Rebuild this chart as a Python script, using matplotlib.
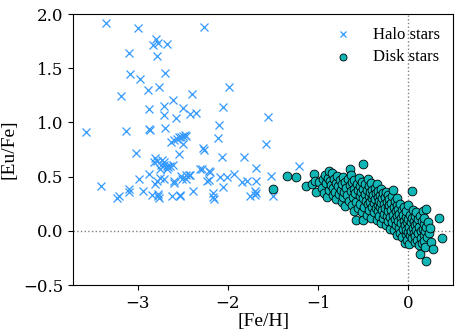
import numpy as np
import matplotlib
matplotlib.use("Agg")
import matplotlib.pyplot as plt

plt.rcParams['font.family'] = ['Liberation Serif', 'DejaVu Serif']

# halo stars ([Fe/H], [Eu/Fe])
halo = [
    (-3.35, 1.92), (-3.00, 1.87), (-2.26, 1.88),
    (-2.80, 1.77), (-2.83, 1.715), (-2.78, 1.735), (-2.68, 1.72),
    (-3.10, 1.64), (-2.79, 1.615),
    (-3.09, 1.445), (-2.975, 1.405), (-2.70, 1.46),
    (-2.89, 1.30), (-2.76, 1.325), (-3.185, 1.245), (-2.40, 1.26), (-1.99, 1.325),
    (-2.61, 1.205), (-2.71, 1.155), (-2.88, 1.125), (-2.50, 1.13), (-2.05, 1.145),
    (-2.71, 1.065), (-2.58, 1.045), (-2.42, 1.075), (-2.35, 1.085), (-1.55, 1.055),
    (-3.57, 0.915), (-3.13, 0.92), (-2.87, 0.94), (-2.86, 0.93), (-2.70, 0.946), (-2.10, 0.975),
    (-2.50, 0.875), (-2.47, 0.875), (-2.11, 0.855),
    (-2.63, 0.822), (-2.60, 0.834), (-2.57, 0.844), (-2.545, 0.866), (-2.515, 0.866), (-2.48, 0.884),
    (-2.50, 0.798), (-1.58, 0.80), (-2.28, 0.76), (-2.26, 0.75),
    (-3.02, 0.715), (-2.545, 0.705), (-2.07, 0.683), (-1.82, 0.683),
    (-2.81, 0.674), (-2.79, 0.643), (-2.82, 0.637),
    (-2.73, 0.65), (-2.71, 0.64), (-2.71, 0.61), (-2.74, 0.61), (-2.68, 0.60),
    (-2.66, 0.585), (-2.68, 0.568), (-2.64, 0.60), (-2.61, 0.61), (-2.75, 0.567),
    (-1.21, 0.60), (-1.69, 0.576), (-2.29, 0.567), (-2.20, 0.544), (-2.31, 0.567), (-2.21, 0.556),
    (-2.87, 0.526), (-2.47, 0.52), (-2.43, 0.514), (-1.93, 0.526), (-2.52, 0.505), (-2.42, 0.52),
    (-2.99, 0.483), (-2.75, 0.489), (-2.71, 0.474), (-2.51, 0.474), (-2.46, 0.483),
    (-2.09, 0.498), (-2.01, 0.498), (-1.52, 0.505), (-2.21, 0.465), (-2.23, 0.458),
    (-2.81, 0.433), (-2.79, 0.46), (-2.60, 0.44), (-2.60, 0.458), (-1.84, 0.449), (-1.79, 0.458), (-1.69, 0.458),
    (-3.41, 0.412), (-2.06, 0.403),
    (-3.10, 0.39), (-3.10, 0.356), (-2.94, 0.372), (-2.39, 0.366), (-1.70, 0.372),
    (-3.21, 0.32), (-3.23, 0.30), (-2.84, 0.33), (-2.78, 0.34), (-2.76, 0.30), (-2.78, 0.32),
    (-2.62, 0.32), (-2.53, 0.32), (-2.53, 0.335),
    (-2.16, 0.35), (-2.16, 0.31), (-2.15, 0.29), (-1.75, 0.32), (-1.69, 0.35), (-1.70, 0.33), (-1.50, 0.32),
]

# disk stars ([Fe/H], [Eu/Fe])
disk = [
    (-1.50, 0.39), (-1.34, 0.51), (-1.24, 0.50), (-1.13, 0.41), (-1.07, 0.43), (-1.05, 0.525), (-1.03, 0.46),
    (-1.02, 0.36), (-0.99, 0.45), (-0.96, 0.40), (-0.95, 0.48), (-0.93, 0.35), (-0.92, 0.52), (-0.91, 0.44),
    (-0.90, 0.31), (-0.89, 0.49), (-0.88, 0.38), (-0.88, 0.55),
    (-0.87, 0.46), (-0.86, 0.42), (-0.85, 0.53), (-0.84, 0.33), (-0.83, 0.40), (-0.82, 0.48), (-0.81, 0.36),
    (-0.80, 0.44), (-0.80, 0.29), (-0.79, 0.51),
    (-0.78, 0.41), (-0.77, 0.34), (-0.76, 0.47), (-0.75, 0.38), (-0.74, 0.27), (-0.73, 0.43), (-0.72, 0.50),
    (-0.72, 0.31), (-0.71, 0.36), (-0.70, 0.45), (-0.70, 0.23),
    (-0.69, 0.40), (-0.68, 0.33), (-0.67, 0.48), (-0.66, 0.28), (-0.65, 0.42), (-0.65, 0.567), (-0.64, 0.37),
    (-0.63, 0.52), (-0.62, 0.45), (-0.62, 0.24), (-0.61, 0.31), (-0.60, 0.39), (-0.60, 0.18), (-0.60, 0.47),
    (-0.59, 0.35), (-0.58, 0.27), (-0.58, 0.10), (-0.57, 0.43), (-0.56, 0.38), (-0.56, 0.21), (-0.55, 0.49),
    (-0.54, 0.32), (-0.53, 0.41), (-0.53, 0.25), (-0.52, 0.36), (-0.51, 0.45), (-0.51, 0.17), (-0.50, 0.30),
    (-0.50, 0.39), (-0.50, 0.62), (-0.50, 0.10),
    (-0.49, 0.22), (-0.48, 0.34), (-0.48, 0.43), (-0.47, 0.28), (-0.46, 0.38), (-0.46, 0.15), (-0.45, 0.48),
    (-0.45, 0.25), (-0.44, 0.32), (-0.43, 0.41), (-0.43, 0.19), (-0.42, 0.36), (-0.42, 0.27), (-0.41, 0.44),
    (-0.41, 0.12), (-0.40, 0.30), (-0.40, 0.22), (-0.40, 0.38),
    (-0.39, 0.33), (-0.38, 0.26), (-0.38, 0.17), (-0.37, 0.40), (-0.37, 0.29), (-0.36, 0.21), (-0.36, 0.35),
    (-0.35, 0.43), (-0.35, 0.10), (-0.34, 0.31), (-0.34, 0.24), (-0.33, 0.37), (-0.33, 0.18), (-0.32, 0.28),
    (-0.32, 0.14), (-0.31, 0.33), (-0.31, 0.22), (-0.30, 0.39), (-0.30, 0.26), (-0.30, 0.07),
    (-0.29, 0.30), (-0.29, 0.19), (-0.28, 0.35), (-0.28, 0.12), (-0.27, 0.25), (-0.27, 0.16), (-0.26, 0.31),
    (-0.26, 0.21), (-0.25, 0.36), (-0.25, 0.05), (-0.24, 0.27), (-0.24, 0.14), (-0.23, 0.22), (-0.23, 0.33),
    (-0.22, 0.18), (-0.22, 0.09), (-0.21, 0.29), (-0.21, 0.24), (-0.20, 0.13), (-0.20, 0.02),
    (-0.19, 0.26), (-0.19, 0.19), (-0.18, 0.32), (-0.18, 0.08), (-0.17, 0.38), (-0.17, 0.15), (-0.16, 0.22),
    (-0.16, 0.01), (-0.15, 0.28), (-0.15, 0.11), (-0.14, 0.18), (-0.14, 0.05), (-0.13, 0.24), (-0.13, -0.04),
    (-0.12, 0.14), (-0.12, 0.30), (-0.11, 0.09), (-0.11, 0.20), (-0.10, 0.03), (-0.10, 0.16),
    (-0.09, 0.25), (-0.09, -0.02), (-0.08, 0.12), (-0.08, 0.07), (-0.07, 0.19), (-0.07, -0.06), (-0.06, 0.15),
    (-0.06, 0.02), (-0.05, 0.22), (-0.05, 0.09), (-0.04, -0.11), (-0.04, 0.05), (-0.03, 0.13), (-0.03, -0.03),
    (-0.02, 0.18), (-0.02, 0.01), (-0.01, 0.08), (-0.01, -0.08), (0.00, 0.11), (0.00, -0.01), (0.00, 0.24),
    (0.01, 0.04), (0.01, -0.12), (0.02, 0.15), (0.02, -0.04), (0.03, 0.08), (0.03, 0.00), (0.04, 0.37),
    (0.04, 0.12), (0.04, -0.07), (0.05, 0.03), (0.05, 0.19), (0.06, -0.02), (0.06, 0.09), (0.07, -0.10),
    (0.07, 0.14), (0.08, 0.05), (0.08, -0.05), (0.09, 0.01), (0.09, 0.17), (0.10, -0.08), (0.10, 0.07),
    (0.11, 0.11), (0.11, -0.02), (0.12, -0.13), (0.12, 0.04), (0.13, 0.14), (0.13, -0.21), (0.14, 0.00),
    (0.14, -0.07), (0.15, 0.09), (0.15, -0.11), (0.16, 0.02), (0.16, 0.18), (0.17, -0.04), (0.17, 0.06),
    (0.18, -0.09), (0.18, 0.12), (0.19, 0.00), (0.19, -0.15), (0.20, -0.28), (0.20, 0.04), (0.20, 0.20),
    (0.21, -0.06), (0.22, 0.08), (0.23, -0.02), (0.24, 0.03), (0.25, -0.10), (0.28, -0.17), (0.34, 0.12),
    (0.37, -0.07),
]

xticks = [-3, -2, -1, 0]
yticks = [-0.5, 0.0, 0.5, 1.0, 1.5, 2.0]

halo = np.array(halo)
disk = np.array(disk)

fig = plt.figure(figsize=(4.64, 3.35), dpi=100)
ax = fig.add_axes([0.157, 0.149, 0.820, 0.809])

ax.axhline(0, color='grey', ls=':', lw=1, zorder=0)
ax.axvline(0, color='grey', ls=':', lw=1, zorder=0)

ax.plot(halo[:, 0], halo[:, 1], 'x', color='#3399ff', ms=6, mew=0.9, label='Halo stars')
ax.scatter(disk[:, 0], disk[:, 1], s=40, c='#10b5b5', edgecolors='black', linewidths=0.6,
           label='Disk stars', zorder=3)

ax.set_xlim(-3.72, 0.5)
ax.set_ylim(-0.5, 2.0)
ax.set_xticks(xticks)
ax.set_yticks(yticks)
ax.tick_params(labelsize=12)
for lab in ax.get_xticklabels() + ax.get_yticklabels():
    lab.set_fontfamily('DejaVu Serif')
ax.set_xlabel('[Fe/H]', fontsize=14, labelpad=1)
ax.set_ylabel('[Eu/Fe]', fontsize=14)

ax.legend(loc='upper right', frameon=False, fontsize=12, markerscale=0.8,
          handletextpad=0.8, handlelength=2.0, labelspacing=0.35, borderaxespad=0.4)

fig.savefig('out.png', dpi=100)
